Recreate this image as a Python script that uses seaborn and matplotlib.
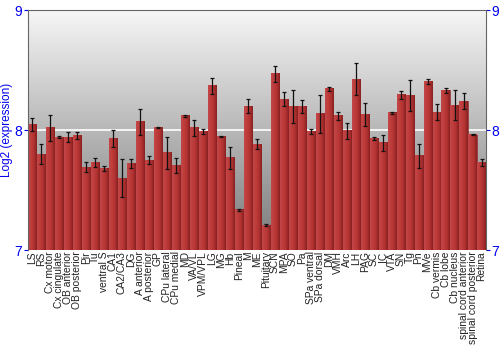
import numpy as np
import pandas as pd
import matplotlib
matplotlib.use("Agg")
import matplotlib.pyplot as plt
import seaborn as sns

regions = ["LS", "RS", "Cx motor", "Cx cingulate", "OB anterior", "OB posterior",
           "Pir", "Tu", "ventral S", "CA1", "CA2/CA3", "DG", "A anterior",
           "A posterior", "GP", "CPu lateral", "CPu medial", "MD", "VA/VL",
           "VPM/VPL", "LG", "MG", "Hb", "Pineal", "M", "ME", "Pituitary", "SCN",
           "MPA", "SO", "Pa", "SPa ventral", "SPa dorsal", "DM", "VMH", "Arc",
           "LH", "PAG", "SC", "IC", "VTA", "SN", "Tg", "Pn", "MVe", "Cb vermis",
           "Cb lobe", "Cb nucleus", "spinal cord anterior",
           "spinal cord posterior", "Retina"]

expression = [8.047, 7.80, 8.017, 7.94, 7.94, 7.955,
              7.69, 7.73, 7.68, 7.93, 7.60, 7.72, 8.067,
              7.75, 8.017, 7.81, 7.705, 8.117, 8.017,
              7.99, 8.367, 7.947, 7.767, 7.336, 8.20, 7.883, 7.208, 8.467,
              8.256, 8.197, 8.197, 7.989, 8.136, 8.344, 8.117, 7.994,
              8.425, 8.128, 7.928, 7.892, 8.144, 8.292, 8.286, 7.786, 8.403, 8.15,
              8.331, 8.208, 8.239,
              7.961, 7.731]

error = [0.055, 0.08, 0.11, 0.01, 0.04, 0.027,
         0.04, 0.04, 0.02, 0.07, 0.16, 0.04, 0.107,
         0.03, 0.004, 0.135, 0.065, 0.01, 0.07,
         0.02, 0.065, 0.005, 0.095, 0.008, 0.06, 0.045, 0.005, 0.065,
         0.06, 0.14, 0.057, 0.02, 0.157, 0.018, 0.037, 0.065,
         0.135, 0.093, 0.012, 0.063, 0.01, 0.03, 0.127, 0.10, 0.022, 0.063,
         0.02, 0.122, 0.067,
         0.003, 0.03]

yticks = [7, 8, 9]

df = pd.DataFrame({"region": regions, "expr": expression, "err": error})

sns.set_style("white")
plt.rcParams["font.family"] = ["Liberation Sans", "DejaVu Sans"]

fig = plt.figure(figsize=(5, 3.5), dpi=100)
ax = fig.add_axes([0.055, 0.2857, 0.917, 0.6857])

# gradient background
grad = np.linspace(0, 1, 256).reshape(-1, 1)
cmap = matplotlib.colors.LinearSegmentedColormap.from_list("bg", ["#f6f6f6", "#797979"])
ax.imshow(grad, aspect="auto", cmap=cmap, extent=(0, 1, 0, 1),
          transform=ax.transAxes, zorder=0)

ax.axhline(8, color="white", lw=1.2, zorder=1)

sns.barplot(data=df, x="region", y="expr", ax=ax, color="#b83636",
            saturation=1, width=0.9, edgecolor="#862020", linewidth=0.4,
            errorbar=None, zorder=2)

ymin, ymax = yticks[0], yticks[-1]

# horizontal shading inside each bar (clipped to the visible axis range)
bar_cmap = matplotlib.colors.LinearSegmentedColormap.from_list(
    "bar", ["#c44646", "#bd3c3c", "#b23232", "#862020"])
hgrad = np.linspace(0, 1, 64).reshape(1, -1)
for p in list(ax.patches):
    x0 = p.get_x()
    w = p.get_width()
    h = p.get_height()
    ax.imshow(hgrad, aspect="auto", cmap=bar_cmap,
              extent=(x0, x0 + w, ymin, h), zorder=2.1)

ax.errorbar(np.arange(len(regions)), df["expr"], yerr=df["err"], fmt="none",
            ecolor="#111111", elinewidth=0.9, capsize=1.6, capthick=0.9, zorder=3)

ax.set_ylim(ymin, ymax)
ax.set_xlim(-0.5, len(regions) - 0.5)
ax.set_yticks(yticks)
ax.set_yticklabels([str(t) for t in yticks])
ax.tick_params(axis="y", which="both", left=True, right=True, labelright=True,
               labelleft=True, colors="#0000ee", labelsize=10, length=3,
               width=0.8, pad=1)
for t in ax.yaxis.get_ticklines():
    t.set_color("#333333")
ax.tick_params(axis="x", labelsize=7.4, rotation=90, length=0, pad=1,
               labelcolor="#222222")
ax.set_xlabel("")
ax.set_ylabel("Log2 (expression)", color="#0000ee", fontsize=8.5, labelpad=1)

for side in ["left", "right", "top"]:
    ax.spines[side].set_visible(True)
    ax.spines[side].set_color("#666666")
    ax.spines[side].set_linewidth(0.8)
ax.spines["bottom"].set_visible(False)

fig.savefig("out.png", dpi=100)
